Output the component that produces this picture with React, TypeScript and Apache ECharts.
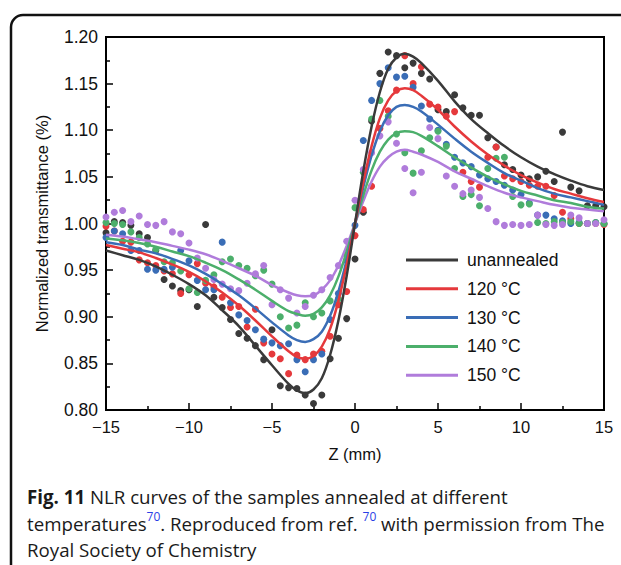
import React, { useEffect, useRef } from "react";
import * as echarts from "echarts";

// Fit-curve sample positions (mm) and curve values
const zFit = [-15, -14, -13, -12, -11, -10, -9, -8, -7, -6, -5, -4, -3.5, -3, -2.5, -2, -1.5, -1, -0.5, 0, 0.5, 1, 1.5, 2, 2.5, 3, 3.5, 4, 5, 6, 7, 8, 9, 10, 11, 12, 13, 14, 15];
const fitUnannealed = [0.971, 0.966, 0.961, 0.954, 0.945, 0.935, 0.923, 0.907, 0.89, 0.869, 0.848, 0.828, 0.821, 0.818, 0.822, 0.834, 0.859, 0.896, 0.944, 1.0, 1.056, 1.104, 1.141, 1.166, 1.178, 1.182, 1.179, 1.172, 1.153, 1.131, 1.112, 1.097, 1.083, 1.071, 1.061, 1.053, 1.046, 1.04, 1.036];
const fit120 = [0.977, 0.973, 0.969, 0.963, 0.956, 0.948, 0.938, 0.926, 0.912, 0.896, 0.879, 0.863, 0.857, 0.855, 0.858, 0.868, 0.887, 0.917, 0.956, 1.0, 1.044, 1.083, 1.113, 1.132, 1.142, 1.145, 1.143, 1.137, 1.122, 1.104, 1.088, 1.074, 1.062, 1.052, 1.044, 1.037, 1.032, 1.027, 1.023];
const fit130 = [0.98, 0.977, 0.972, 0.968, 0.962, 0.955, 0.946, 0.935, 0.923, 0.909, 0.894, 0.88, 0.875, 0.873, 0.876, 0.884, 0.901, 0.927, 0.961, 1.0, 1.039, 1.073, 1.099, 1.116, 1.125, 1.127, 1.125, 1.12, 1.106, 1.091, 1.077, 1.065, 1.054, 1.046, 1.038, 1.032, 1.028, 1.024, 1.02];
const fit140 = [0.984, 0.982, 0.979, 0.975, 0.97, 0.965, 0.958, 0.95, 0.94, 0.929, 0.917, 0.906, 0.903, 0.901, 0.903, 0.91, 0.923, 0.943, 0.97, 1.0, 1.03, 1.057, 1.077, 1.09, 1.097, 1.099, 1.098, 1.094, 1.083, 1.071, 1.06, 1.05, 1.042, 1.035, 1.03, 1.025, 1.022, 1.018, 1.016];
const fit150 = [0.988, 0.986, 0.983, 0.98, 0.976, 0.972, 0.967, 0.96, 0.952, 0.944, 0.934, 0.926, 0.923, 0.922, 0.923, 0.929, 0.939, 0.955, 0.976, 1.0, 1.024, 1.045, 1.061, 1.071, 1.077, 1.079, 1.077, 1.074, 1.066, 1.056, 1.048, 1.04, 1.033, 1.028, 1.024, 1.02, 1.017, 1.015, 1.013];

// Measured points (mm) and normalized transmittance
const zPts = [-15, -14.5, -14, -13.5, -13, -12.5, -12, -11.5, -11, -10.5, -10, -9.5, -9, -8.5, -8, -7.5, -7, -6.5, -6, -5.5, -5, -4.5, -4, -3.5, -3, -2.5, -2, -1.5, -1, -0.5, 0, 0.5, 1, 1.5, 2, 2.5, 3, 3.5, 4, 4.5, 5, 5.5, 6, 6.5, 7, 7.5, 8, 8.5, 9, 9.5, 10, 10.5, 11, 11.5, 12, 12.5, 13, 13.5, 14, 14.5, 15];
const ptsUnannealed = [0.99, 1.002, 1.001, 0.998, 0.989, 0.985, 0.971, 0.94, 0.933, 0.928, 0.929, 0.911, 0.999, 0.921, 0.91, 0.897, 0.882, 0.877, 0.869, 0.854, 0.886, 0.826, 0.824, 0.823, 0.816, 0.807, 0.816, 0.855, 0.877, 0.898, 0.962, 1.012, 1.11, 1.161, 1.184, 1.18, 1.167, 1.172, 1.161, 1.155, 1.122, 1.12, 1.138, 1.124, 1.116, 1.116, 1.092, 1.082, 1.063, 1.058, 1.052, 1.048, 1.05, 1.056, 1.045, 1.098, 1.039, 1.035, 1.019, 1.019, 1.018];
const pts120 = [0.997, 0.992, 0.981, 0.98, 0.961, 0.958, 0.955, 0.949, 0.946, 0.925, 0.945, 0.957, 0.936, 0.932, 0.921, 0.91, 0.911, 0.889, 0.908, 0.872, 0.86, 0.855, 0.839, 0.859, 0.854, 0.86, 0.863, 0.879, 0.913, 0.927, 0.987, 1.015, 1.04, 1.102, 1.121, 1.143, 1.18, 1.15, 1.168, 1.128, 1.125, 1.115, 1.12, 1.055, 1.045, 1.039, 1.071, 1.082, 1.051, 1.048, 1.045, 1.041, 1.04, 1.04, 1.03, 1.012, 1.005, 1.0, 1.0, 1.0, 0.999];
const pts130 = [0.985, 0.992, 0.989, 0.971, 0.971, 0.951, 0.95, 0.951, 0.953, 0.971, 0.96, 0.939, 0.929, 0.929, 0.98, 0.915, 0.902, 0.896, 0.886, 0.876, 0.872, 0.869, 0.871, 0.854, 0.841, 0.854, 0.86, 0.897, 0.925, 0.96, 0.998, 1.089, 1.132, 1.15, 1.167, 1.157, 1.158, 1.146, 1.126, 1.112, 1.1, 1.085, 1.071, 1.065, 1.061, 1.052, 1.048, 1.045, 1.041, 1.036, 1.031, 1.022, 1.009, 1.009, 1.005, 1.003, 1.0, 1.001, 1.0, 1.001, 1.0];
const pts140 = [1.001, 1.0, 0.999, 0.991, 0.985, 0.978, 0.972, 0.959, 0.958, 0.949, 0.93, 0.926, 0.939, 0.945, 0.959, 0.962, 0.955, 0.952, 0.944, 0.95, 0.935, 0.9, 0.888, 0.891, 0.915, 0.9, 0.904, 0.917, 0.919, 0.966, 1.017, 1.055, 1.112, 1.132, 1.115, 1.096, 1.076, 1.054, 1.078, 1.092, 1.099, 1.083, 1.059, 1.029, 1.031, 1.019, 1.059, 1.07, 1.071, 1.029, 1.02, 1.021, 1.001, 1.0, 1.002, 1.001, 1.002, 1.0, 1.0, 1.001, 1.0];
const pts150 = [1.007, 1.012, 1.014, 1.002, 1.008, 0.999, 0.998, 1.002, 0.991, 0.989, 0.979, 0.963, 0.952, 0.94, 0.935, 0.93, 0.928, 0.936, 0.946, 0.955, 0.913, 0.929, 0.92, 0.904, 0.911, 0.923, 0.929, 0.942, 0.955, 0.981, 1.025, 1.058, 1.076, 1.094, 1.109, 1.086, 1.059, 1.033, 1.055, 1.103, 1.091, 1.051, 1.04, 1.032, 1.036, 1.028, 1.016, 1.002, 0.998, 0.999, 0.998, 0.999, 1.009, 0.999, 0.998, 0.999, 1.009, 1.006, 1.0, 1.0, 1.004];

const seriesNames = ["unannealed", "120 °C", "130 °C", "140 °C", "150 °C"];
const seriesColors = ["#3a3a3a", "#e5393c", "#3a6db6", "#4caf6b", "#b07cdb"];
const fits = [fitUnannealed, fit120, fit130, fit140, fit150];
const points = [ptsUnannealed, pts120, pts130, pts140, pts150];

const axisFont = "'Liberation Sans', Arial, Helvetica, sans-serif";
const capFont = "'Open Sans', 'Noto Sans', sans-serif";
const capSize = 18.7;

export default function App() {
  const ref = useRef<HTMLDivElement>(null);
  useEffect(() => {
    if (!ref.current) return;
    const chart = echarts.init(ref.current, undefined, { renderer: "svg" });
    const scatterSeries = points.map((p, k) => ({
      type: "scatter",
      name: seriesNames[k] + " data",
      data: zPts.map((z, i) => [z, p[i]]),
      symbolSize: 7,
      itemStyle: { color: seriesColors[k], opacity: 1 },
      z: 2,
    }));
    const order = [4, 3, 2, 1, 0];
    const lineSeries = order.map((k) => ({
      type: "line",
      name: seriesNames[k],
      data: zFit.map((z, i) => [z, fits[k][i]]),
      smooth: 0.35,
      symbol: "none",
      lineStyle: { width: 2.5, color: seriesColors[k] },
      itemStyle: { color: seriesColors[k] },
      z: 3,
    }));
    const fmtX = (v: number) => (v < 0 ? "\u2212" + Math.abs(v) : String(v));
    chart.setOption({
      animation: false,
      grid: {
        left: 106,
        right: 17,
        top: 37,
        bottom: 155,
        show: true,
        borderColor: "#000",
        borderWidth: 2,
        containLabel: false,
      },
      xAxis: {
        type: "value",
        min: -15,
        max: 15,
        interval: 5,
        name: "Z (mm)",
        nameLocation: "middle",
        nameGap: 35,
        nameTextStyle: { fontSize: 16.5, color: "#111", fontFamily: axisFont },
        axisLine: { onZero: false, lineStyle: { color: "#000", width: 2 } },
        axisTick: { inside: true, length: 7, lineStyle: { color: "#000", width: 1.5 } },
        minorTick: { show: true, splitNumber: 2, length: 4, lineStyle: { color: "#000", width: 1.5 } },
        splitLine: { show: false },
        axisLabel: { fontSize: 16.5, color: "#111", fontFamily: axisFont, margin: 8, formatter: fmtX },
      },
      yAxis: {
        type: "value",
        min: 0.8,
        max: 1.2,
        interval: 0.05,
        name: "Normalized transmittance (%)",
        nameLocation: "middle",
        nameGap: 56,
        nameTextStyle: { fontSize: 16.5, color: "#111", fontFamily: axisFont },
        axisLine: { onZero: false, lineStyle: { color: "#000", width: 2 } },
        axisTick: { inside: true, length: 7, lineStyle: { color: "#000", width: 1.5 } },
        minorTick: { show: true, splitNumber: 2, length: 4, lineStyle: { color: "#000", width: 1.5 } },
        splitLine: { show: false },
        axisLabel: {
          fontSize: 17.5,
          color: "#111",
          fontFamily: axisFont,
          margin: 8,
          formatter: (v: number) => v.toFixed(2),
        },
      },
      legend: {
        data: seriesNames.map((n) => ({ name: n, icon: "rect" })),
        orient: "vertical",
        left: 406,
        top: 251,
        padding: 0,
        itemWidth: 52,
        itemHeight: 3,
        itemGap: 10.8,
        selectedMode: false,
        textStyle: { fontSize: 17.5, color: "#111", fontFamily: axisFont, padding: [0, 0, 0, 4] },
      },
      graphic: [
        {
          type: "rect",
          shape: { x: 11, y: 15, width: 650, height: 620, r: 12 },
          style: { fill: "none", stroke: "#111", lineWidth: 2.5 },
          silent: true,
        },
        {
          type: "text",
          style: {
            x: 27,
            y: 496,
            verticalAlign: "middle",
            text: "{b|Fig. 11} NLR curves of the samples annealed at different",
            font: capSize + "px " + capFont,
            fill: "#1a1a1a",
            rich: { b: { fontWeight: "bold", fontSize: capSize, fontFamily: capFont, fill: "#1a1a1a" } },
          },
        },
        {
          type: "text",
          style: {
            x: 27,
            y: 523,
            verticalAlign: "middle",
            text: "temperatures{s|70}. Reproduced from ref. {s|70} with permission from The",
            font: capSize + "px " + capFont,
            fill: "#1a1a1a",
            rich: { s: { fontSize: 12, fontFamily: capFont, fill: "#2b3fe6", padding: [0, 0, 13, 0] } },
          },
        },
        {
          type: "text",
          style: {
            x: 27,
            y: 549,
            verticalAlign: "middle",
            text: "Royal Society of Chemistry",
            font: capSize + "px " + capFont,
            fill: "#1a1a1a",
          },
        },
      ],
      series: [...scatterSeries, ...lineSeries],
    });
    return () => chart.dispose();
  }, []);
  return <div ref={ref} style={{ position: "absolute", left: 0, top: 0, width: 621, height: 565 }} />;
}
